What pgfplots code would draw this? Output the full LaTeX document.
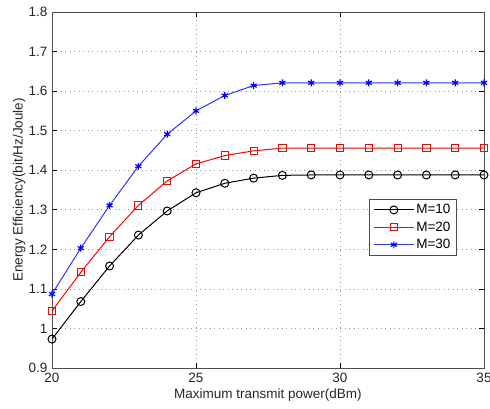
\documentclass[border=0pt]{standalone}
\usepackage{pgfplots}
\pgfplotsset{compat=1.18}
\usepackage{fontspec}
\setmainfont{Liberation Sans}
\begin{document}
\fontsize{13.5bp}{16bp}\selectfont
\begin{tikzpicture}
\begin{axis}[
  scale only axis,
  width=432bp, height=356bp,
  xmin=20, xmax=35, ymin=0.9, ymax=1.8,
  xtick={20,25,30,35},
  ytick={0.9,1.0,1.1,1.2,1.3,1.4,1.5,1.6,1.7,1.8},
  yticklabel style={/pgf/number format/fixed,/pgf/number format/precision=1},
  /pgf/number format/assume math mode=true,
  tick align=inside,
  major tick length=5bp,
  tick style={black, line width=0.6bp},
  axis line style={line width=0.6bp, black!70},
  grid=major,
  major grid style={dash pattern=on 1bp off 3.5bp, gray!80, line width=0.7bp},
  xlabel={Maximum transmit power(dBm)},
  ylabel={Energy Efficiency(bit/Hz/Joule)},
  xlabel style={yshift=3bp},
  ylabel style={yshift=-6bp},
  ticklabel style={font=\fontsize{13.5bp}{16bp}\selectfont, color=black!85},
  label style={font=\fontsize{13.5bp}{16bp}\selectfont, color=black!85},
  legend style={at={(0.937,0.475)}, anchor=north east, draw=black!70, line width=0.6bp,
    font=\fontsize{13.5bp}{16bp}\selectfont, row sep=2bp, inner xsep=4bp, inner ysep=3bp},
  legend cell align=left,
  legend image code/.code={\draw[mark repeat=2,mark phase=2] plot coordinates {(0bp,0bp)(20bp,0bp)(40bp,0bp)};},
]
\addplot[black, line width=1bp, mark=o, mark size=4bp, mark options={line width=1bp}] coordinates {
(20,0.973) (21,1.068) (22,1.158) (23,1.236) (24,1.297) (25,1.343) (26,1.367) (27,1.380)
(28,1.387) (29,1.388) (30,1.388) (31,1.388) (32,1.388) (33,1.388) (34,1.388) (35,1.388)};
\addlegendentry{M=10}
\addplot[red, line width=1bp, mark=square, mark size=3.6bp, mark options={line width=1bp}] coordinates {
(20,1.044) (21,1.142) (22,1.232) (23,1.311) (24,1.373) (25,1.416) (26,1.437) (27,1.449)
(28,1.456) (29,1.456) (30,1.456) (31,1.456) (32,1.456) (33,1.456) (34,1.456) (35,1.456)};
\addlegendentry{M=20}
\addplot[blue!80!white, line width=1bp, mark=asterisk, mark size=3.5bp, mark options={line width=1.2bp, blue}] coordinates {
(20,1.087) (21,1.203) (22,1.311) (23,1.410) (24,1.491) (25,1.550) (26,1.589) (27,1.614)
(28,1.621) (29,1.621) (30,1.621) (31,1.621) (32,1.621) (33,1.621) (34,1.621) (35,1.621)};
\addlegendentry{M=30}
\end{axis}
\pgfresetboundingbox
\path[use as bounding box] ([shift={(-52bp,-41bp)}]current axis.south west) rectangle ([shift={(6bp,12bp)}]current axis.north east);
\end{tikzpicture}
\end{document}
